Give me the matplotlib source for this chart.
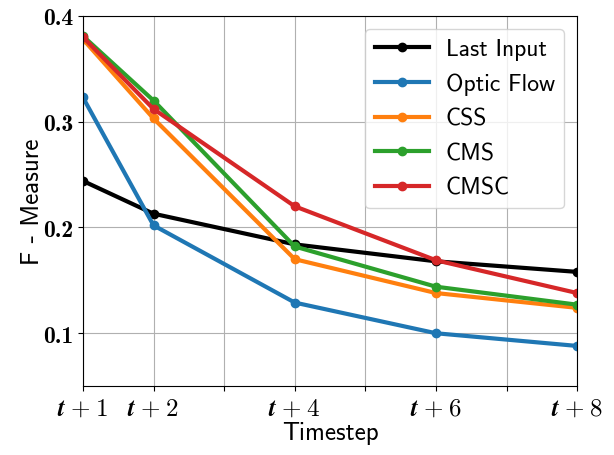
import matplotlib
matplotlib.use("Agg")
import matplotlib.pyplot as plt

plt.rcParams['mathtext.fontset'] = 'cm'

steps = [1, 2, 4, 6, 8]
tick_names = ['1', '2', '', '4', '', '6', '', '8']
tick_labels = [r'$\boldsymbol{t}\;\mathbf{+}\;\mathbf{%s}$' % n if n else '' for n in tick_names]

last_input = [0.244, 0.213, 0.184, 0.168, 0.158]
optic_flow = [0.323, 0.202, 0.129, 0.100, 0.088]
css = [0.378, 0.303, 0.170, 0.138, 0.124]
cms = [0.381, 0.320, 0.182, 0.144, 0.127]
cmsc = [0.380, 0.312, 0.220, 0.169, 0.138]

series = [("Last Input", last_input, "black"),
          ("Optic Flow", optic_flow, "tab:blue"),
          ("CSS", css, "tab:orange"),
          ("CMS", cms, "tab:green"),
          ("CMSC", cmsc, "tab:red")]

fig = plt.figure(figsize=(6.14, 4.56), dpi=100)
ax = fig.add_axes([0.135, 0.151, 0.805, 0.812])

for name, vals, col in series:
    ax.plot(steps, vals, marker='o', color=col, lw=3, ms=6, label=name)

ax.set_xlim(1, 8)
ax.set_ylim(0.05, 0.4)
ax.set_xticks(range(1, 9))
ax.set_xticklabels(tick_labels, fontsize=18)
ax.set_yticks([0.1, 0.2, 0.3, 0.4])
ax.set_yticklabels(['0.1', '0.2', '0.3', '0.4'], family='cmb10', fontsize=17)
ax.grid(True, color='#b0b0b0', lw=0.8)

ax.set_xlabel('Timestep', family='cmss10', fontsize=18, labelpad=1)
ax.set_ylabel('F - Measure', family='cmss10', fontsize=18, labelpad=-1)

leg = ax.legend(loc='upper right', prop={'family': 'cmss10', 'size': 17},
                borderaxespad=0.55, labelspacing=0.53, handlelength=2.3,
                handletextpad=0.7)

fig.savefig('out.png', dpi=100)
